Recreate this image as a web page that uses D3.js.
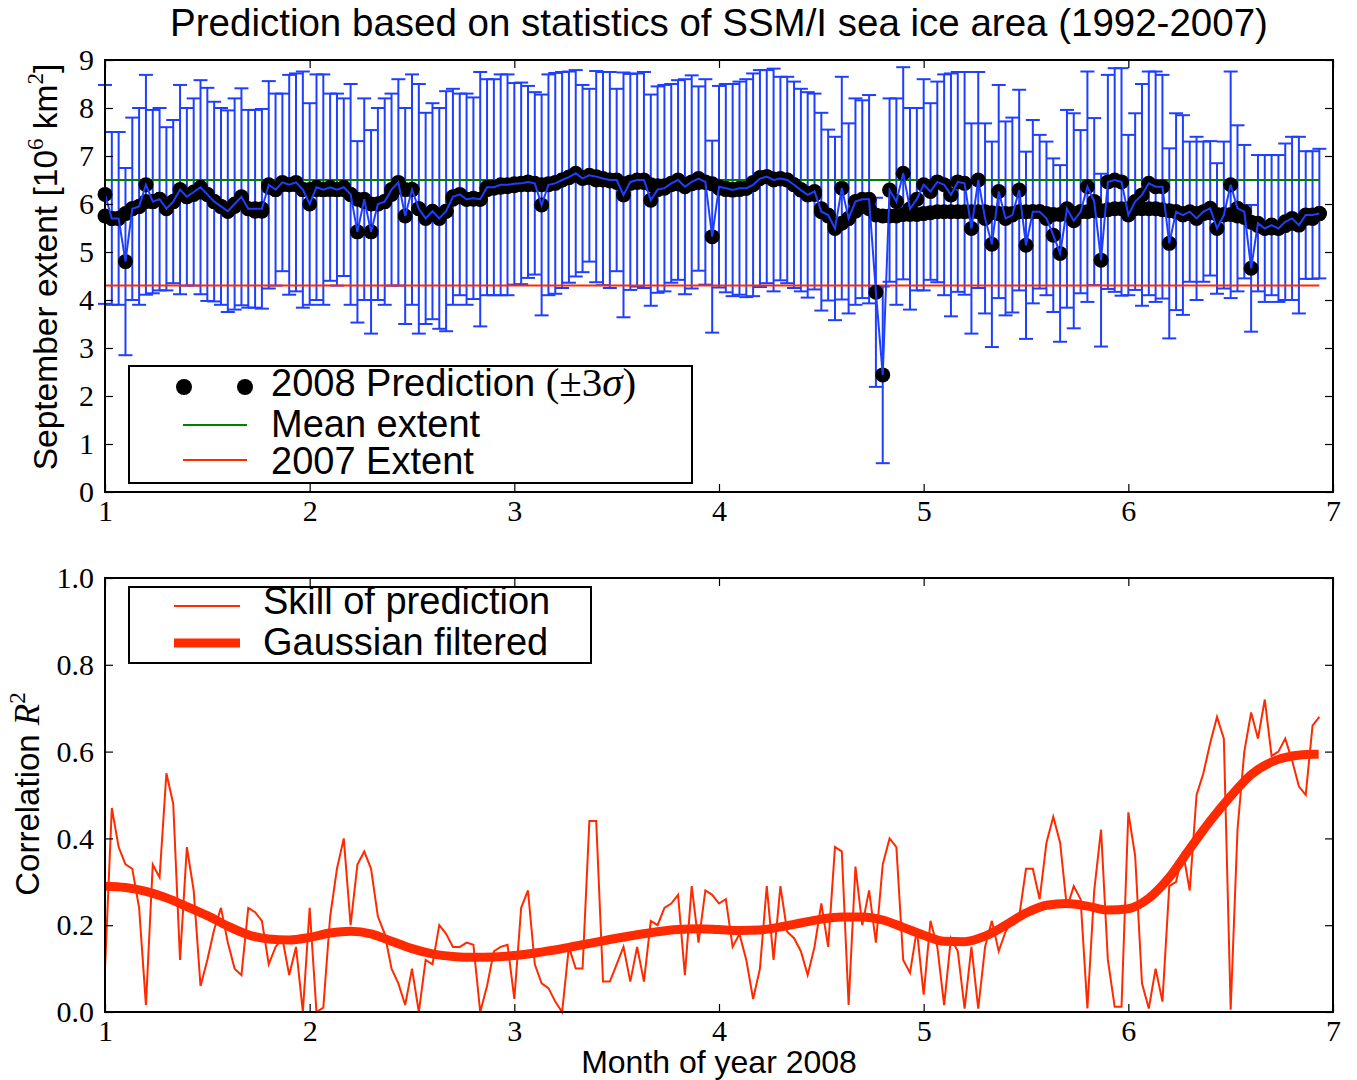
<!DOCTYPE html>
<html>
<head>
<meta charset="utf-8">
<script src="https://cdn.jsdelivr.net/npm/d3@7"></script>
<style>
  body { margin: 0; background: #fff; }
  .sans { font-family: "Liberation Sans", Arial, sans-serif; }
  .serif { font-family: "Liberation Serif", "Times New Roman", serif; }
</style>
</head>
<body>
<div id="vis"></div>
<script>
// daily values, Jan 1 .. late June 2008 (x = month of year)
const predExtent = [
  6.2,5.7,5.7,4.8,5.9,5.95,6.4,6.05,6.1,5.9,
  6.05,6.3,6.15,6.25,6.35,6.2,6.05,5.95,5.85,6.0,
  6.15,5.9,5.9,5.9,6.4,6.3,6.45,6.4,6.45,6.3,
  6.0,6.35,6.3,6.35,6.3,6.35,6.2,5.42,6.1,5.42,
  6.0,6.05,6.3,6.45,5.75,6.3,5.9,5.7,5.85,5.7,
  5.85,6.15,6.2,6.1,6.12,6.1,6.35,6.35,6.4,6.4,
  6.42,6.43,6.46,6.43,5.98,6.4,6.43,6.5,6.56,6.64,
  6.53,6.6,6.57,6.53,6.5,6.5,6.19,6.46,6.5,6.5,
  6.08,6.3,6.33,6.43,6.5,6.36,6.46,6.53,6.46,5.32,
  6.36,6.33,6.29,6.33,6.33,6.4,6.53,6.57,6.5,6.53,
  6.5,6.4,6.29,6.19,6.26,5.84,5.77,5.49,6.33,5.7,
  6.05,6.1,6.1,4.16,2.44,6.29,6.05,6.64,5.9,6.1,
  6.4,6.26,6.46,6.4,6.19,6.46,6.43,5.49,6.5,5.7,
  5.16,6.26,5.7,5.77,6.29,5.14,5.84,5.84,5.7,5.35,
  4.97,5.9,5.65,5.84,6.36,6.05,4.83,6.46,6.5,6.46,
  5.77,6.05,6.19,6.43,6.36,6.36,5.18,5.84,5.77,5.84,
  5.7,5.84,5.91,5.49,5.77,6.4,5.91,5.84,4.66,5.6,
  5.49,5.56,5.49,5.63,5.7,5.56,5.77,5.77,5.8
];
// +-3 sigma half-width of the error bars
const sigma3 = [
  2.28,1.8,1.8,1.95,1.9,2.05,2.29,1.91,1.9,1.7,
  1.7,2.18,1.85,1.95,2.23,2.22,2.08,2.05,2.1,2.2,
  2.26,2.06,2.06,2.08,2.16,2.0,1.85,2.29,2.27,2.46,
  2.1,2.35,2.4,1.95,2.0,1.85,2.3,1.89,2.1,2.12,
  2.0,2.15,2.0,2.15,2.25,2.4,2.6,2.2,2.25,2.3,
  2.5,2.25,2.1,2.2,2.1,2.65,2.25,2.25,2.3,2.3,
  2.1,2.1,2.0,1.9,2.3,2.3,2.3,2.25,2.2,2.15,
  1.95,1.8,2.2,2.22,2.25,1.9,2.55,2.25,2.22,2.25,
  2.2,2.15,2.15,2.07,2.08,2.24,2.22,1.92,2.14,2.0,
  2.1,2.17,2.21,2.22,2.27,2.32,2.26,2.22,2.32,2.12,
  2.15,2.15,2.11,2.14,2.04,2.06,1.78,1.91,2.32,1.98,
  2.15,2.06,2.17,1.97,1.84,1.91,2.15,2.21,2.1,1.9,
  2.2,1.84,2.09,2.3,2.53,2.29,2.32,2.19,2.25,1.98,
  2.14,2.22,2.02,2.03,2.09,1.95,1.91,1.6,1.6,1.6,
  1.84,2.06,2.24,1.7,2.4,1.74,1.8,2.23,2.33,2.37,
  1.67,1.84,2.31,2.33,2.4,2.33,1.98,2.05,2.08,1.46,
  1.7,1.46,1.4,1.36,1.53,2.36,1.73,1.39,1.32,1.42,
  1.53,1.46,1.53,1.63,1.7,1.84,1.33,1.33,1.35
];
// second row of black markers (the thick black band)
const bandExtent = [
  5.75,5.7,5.7,5.8,5.9,5.95,6.05,6.05,6.1,5.95,
  6.05,6.2,6.15,6.2,6.25,6.2,6.05,5.95,5.85,5.95,
  6.1,5.9,5.85,5.85,6.35,6.3,6.4,6.4,6.4,6.3,
  6.3,6.3,6.3,6.3,6.3,6.3,6.2,6.1,6.05,6.0,
  6.0,6.05,6.2,6.35,6.3,6.3,5.9,5.75,5.8,5.75,
  5.85,6.1,6.15,6.1,6.1,6.1,6.3,6.33,6.35,6.36,
  6.38,6.4,6.4,6.4,6.4,6.42,6.45,6.5,6.55,6.6,
  6.55,6.55,6.5,6.5,6.48,6.45,6.42,6.43,6.45,6.45,
  6.4,6.38,6.38,6.4,6.42,6.4,6.42,6.45,6.45,6.42,
  6.33,6.3,6.3,6.3,6.33,6.45,6.55,6.57,6.52,6.52,
  6.5,6.4,6.3,6.22,6.2,5.9,5.75,5.55,5.6,5.7,
  5.85,5.95,5.9,5.77,5.75,5.75,5.75,5.78,5.78,5.78,
  5.8,5.82,5.84,5.84,5.84,5.84,5.84,5.84,5.84,5.84,
  5.82,5.8,5.8,5.8,5.84,5.84,5.84,5.84,5.8,5.78,
  5.78,5.8,5.8,5.84,5.84,5.86,5.86,5.88,5.9,5.9,
  5.9,5.9,5.9,5.9,5.9,5.88,5.86,5.84,5.8,5.8,
  5.8,5.8,5.82,5.78,5.78,5.78,5.75,5.72,5.62,5.55,
  5.5,5.5,5.5,5.55,5.6,5.6,5.7,5.7,5.8
];
const skill = [
  0.1,0.47,0.38,0.34,0.33,0.24,0.016,0.34,0.31,0.55,
  0.48,0.12,0.38,0.28,0.06,0.12,0.19,0.24,0.16,0.1,
  0.085,0.24,0.23,0.21,0.11,0.15,0.17,0.085,0.15,0.0,
  0.24,0.0,0.01,0.22,0.33,0.4,0.2,0.34,0.37,0.33,
  0.22,0.18,0.1,0.066,0.016,0.1,0.0,0.12,0.11,0.2,
  0.18,0.15,0.15,0.16,0.155,0.0,0.06,0.14,0.15,0.155,
  0.03,0.24,0.28,0.11,0.066,0.055,0.024,0.0,0.15,0.1,
  0.1,0.44,0.44,0.07,0.07,0.11,0.15,0.07,0.15,0.07,
  0.21,0.2,0.24,0.25,0.27,0.085,0.29,0.16,0.28,0.27,
  0.25,0.26,0.15,0.18,0.12,0.03,0.1,0.29,0.12,0.29,
  0.185,0.17,0.14,0.085,0.15,0.25,0.15,0.38,0.37,0.016,
  0.335,0.2,0.28,0.16,0.34,0.4,0.38,0.12,0.09,0.19,
  0.04,0.21,0.15,0.016,0.17,0.14,0.008,0.15,0.008,0.15,
  0.21,0.14,0.185,0.21,0.22,0.33,0.33,0.26,0.39,0.45,
  0.39,0.24,0.29,0.26,0.008,0.28,0.42,0.12,0.012,0.012,
  0.46,0.36,0.066,0.008,0.1,0.024,0.29,0.3,0.37,0.28,
  0.5,0.55,0.62,0.68,0.63,0.005,0.42,0.6,0.69,0.63,
  0.72,0.59,0.6,0.63,0.58,0.52,0.5,0.66,0.68
];
const gaussMonth = [1.0,1.1,1.2,1.3,1.4,1.5,1.6,1.7,1.8,1.9,2.0,2.1,2.2,2.3,2.4,2.5,2.6,2.7,2.8,2.9,
  3.0,3.1,3.2,3.3,3.4,3.5,3.6,3.7,3.8,3.9,4.0,4.1,4.2,4.3,4.4,4.5,4.6,4.7,4.8,4.9,
  5.0,5.1,5.2,5.3,5.4,5.5,5.6,5.7,5.8,5.9,6.0,6.1,6.2,6.3,6.4,6.5,6.6,6.7,6.8,6.9,6.93];
const gaussSkill = [0.29,0.287,0.278,0.263,0.243,0.222,0.198,0.178,0.168,0.166,0.172,0.182,0.186,0.18,0.163,0.146,0.134,0.128,0.126,0.127,
  0.13,0.136,0.143,0.152,0.161,0.17,0.178,0.185,0.19,0.192,0.19,0.188,0.189,0.196,0.205,0.214,0.219,0.219,0.212,0.195,
  0.177,0.163,0.162,0.175,0.2,0.228,0.246,0.25,0.244,0.235,0.238,0.262,0.31,0.376,0.44,0.497,0.547,0.576,0.59,0.594,0.594];
const meanExtent = 6.5;
const extent2007 = 4.3;
const monthTicks = [1, 2, 3, 4, 5, 6, 7];
const extentTicks = [0, 1, 2, 3, 4, 5, 6, 7, 8, 9];
const skillTicks = [0, 0.2, 0.4, 0.6, 0.8, 1.0];

const blue = '#1f3fff', red = '#ff2a00', green = '#008000';
const W = 1357, H = 1080;
const svg = d3.select('#vis').append('svg').attr('width', W).attr('height', H);

const x = d3.scaleLinear().domain([1, 7]).range([105, 1333]);
const yTop = d3.scaleLinear().domain([0, 9]).range([492, 60]);
const yBot = d3.scaleLinear().domain([0, 1]).range([1012, 578]);
const dayX = i => 1 + i / 30;

function frame(y, ticks, fmt) {
  const [y0, y1] = y.range();
  const g = svg.append('g');
  g.append('g').attr('transform', `translate(105,0)`)
    .call(d3.axisLeft(y).tickValues(ticks).tickFormat(fmt).tickSize(-8).tickPadding(11))
    .call(a => a.select('.domain').remove());
  g.append('g').attr('transform', `translate(1333,0)`)
    .call(d3.axisRight(y).tickValues(ticks).tickFormat('').tickSize(-8))
    .call(a => a.select('.domain').remove());
  g.append('g').attr('transform', `translate(0,${y0})`)
    .call(d3.axisBottom(x).tickValues(monthTicks).tickFormat(d3.format('d')).tickSize(-8).tickPadding(8))
    .call(a => a.select('.domain').remove());
  g.append('g').attr('transform', `translate(0,${y1})`)
    .call(d3.axisTop(x).tickValues(monthTicks).tickFormat('').tickSize(-8))
    .call(a => a.select('.domain').remove());
  g.selectAll('.tick line').attr('stroke', '#000').attr('stroke-width', 1.2);
  g.selectAll('.tick text').attr('font-size', 30).attr('fill', '#000')
    .attr('font-family', '"Liberation Serif", serif');
  g.append('rect').attr('x', 105).attr('y', y1).attr('width', 1228).attr('height', y0 - y1)
    .attr('fill', 'none').attr('stroke', '#000').attr('stroke-width', 2);
  return g;
}

// ---------- top panel ----------
const days = predExtent.map((v, i) => ({ m: dayX(i), v, e: sigma3[i], b: bandExtent[i] }));
const topG = svg.append('g');

topG.selectAll('.bar').data(days).join('line')
  .attr('x1', d => x(d.m)).attr('x2', d => x(d.m))
  .attr('y1', d => yTop(d.v - d.e)).attr('y2', d => yTop(d.v + d.e))
  .attr('stroke', blue).attr('stroke-width', 2);
['hi', 'lo'].forEach(k => {
  topG.selectAll('.cap' + k).data(days).join('line')
    .attr('x1', d => x(d.m) - 7).attr('x2', d => x(d.m) + 7)
    .attr('y1', d => yTop(k === 'hi' ? d.v + d.e : d.v - d.e))
    .attr('y2', d => yTop(k === 'hi' ? d.v + d.e : d.v - d.e))
    .attr('stroke', blue).attr('stroke-width', 2);
});

const lastM = dayX(predExtent.length - 1);
topG.append('line').attr('x1', x(1)).attr('x2', x(lastM))
  .attr('y1', yTop(meanExtent)).attr('y2', yTop(meanExtent)).attr('stroke', green).attr('stroke-width', 2);
topG.append('line').attr('x1', x(1)).attr('x2', x(lastM))
  .attr('y1', yTop(extent2007)).attr('y2', yTop(extent2007)).attr('stroke', red).attr('stroke-width', 2);

topG.selectAll('.band').data(days).join('circle')
  .attr('cx', d => x(d.m)).attr('cy', d => yTop(d.b)).attr('r', 7.5).attr('fill', '#000');
topG.selectAll('.dot').data(days).join('circle')
  .attr('cx', d => x(d.m)).attr('cy', d => yTop(d.v)).attr('r', 7.5).attr('fill', '#000');
topG.append('path').datum(days)
  .attr('d', d3.line().x(d => x(d.m)).y(d => yTop(d.v)))
  .attr('fill', 'none').attr('stroke', blue).attr('stroke-width', 2);

frame(yTop, extentTicks, d3.format('d'));

// legend top
const lg = svg.append('g');
lg.append('rect').attr('x', 129).attr('y', 366).attr('width', 563).attr('height', 117)
  .attr('fill', '#fff').attr('stroke', '#000').attr('stroke-width', 2);
[184, 245].forEach(cx => lg.append('circle').attr('cx', cx).attr('cy', 387).attr('r', 8).attr('fill', '#000'));
lg.append('line').attr('x1', 183).attr('x2', 247).attr('y1', 425).attr('y2', 425).attr('stroke', green).attr('stroke-width', 2);
lg.append('line').attr('x1', 183).attr('x2', 247).attr('y1', 460).attr('y2', 460).attr('stroke', red).attr('stroke-width', 2);
const t1 = lg.append('text').attr('x', 271).attr('y', 396).attr('class', 'sans').attr('font-size', 38);
t1.append('tspan').text('2008 Prediction ');
t1.append('tspan').attr('class', 'serif').attr('font-size', 41).text('(±3');
t1.append('tspan').attr('class', 'serif').attr('font-size', 41).attr('font-style', 'italic').text('σ');
t1.append('tspan').attr('class', 'serif').attr('font-size', 41).text(')');
lg.append('text').attr('x', 271).attr('y', 437).attr('class', 'sans').attr('font-size', 38).text('Mean extent');
lg.append('text').attr('x', 271).attr('y', 474).attr('class', 'sans').attr('font-size', 38).text('2007 Extent');

// ---------- bottom panel ----------
const botG = svg.append('g');
botG.append('path').datum(skill)
  .attr('d', d3.line().x((d, i) => x(dayX(i))).y(d => yBot(d)))
  .attr('fill', 'none').attr('stroke', red).attr('stroke-width', 2);
botG.append('path').datum(gaussSkill)
  .attr('d', d3.line().x((d, i) => x(gaussMonth[i])).y(d => yBot(d)).curve(d3.curveMonotoneX))
  .attr('fill', 'none').attr('stroke', red).attr('stroke-width', 9);

frame(yBot, skillTicks, d3.format('.1f'));

const lg2 = svg.append('g');
lg2.append('rect').attr('x', 129).attr('y', 587).attr('width', 462).attr('height', 76)
  .attr('fill', '#fff').attr('stroke', '#000').attr('stroke-width', 2);
lg2.append('line').attr('x1', 174).attr('x2', 240).attr('y1', 606).attr('y2', 606).attr('stroke', red).attr('stroke-width', 2);
lg2.append('line').attr('x1', 174).attr('x2', 240).attr('y1', 643).attr('y2', 643).attr('stroke', red).attr('stroke-width', 9);
lg2.append('text').attr('x', 263).attr('y', 614).attr('class', 'sans').attr('font-size', 38).text('Skill of prediction');
lg2.append('text').attr('x', 263).attr('y', 655).attr('class', 'sans').attr('font-size', 38).text('Gaussian filtered');

// ---------- titles and labels ----------
svg.append('text').attr('x', 719).attr('y', 36).attr('text-anchor', 'middle')
  .attr('class', 'sans').attr('font-size', 38.5)
  .text('Prediction based on statistics of SSM/I sea ice area (1992-2007)');

const yl1 = svg.append('text').attr('class', 'sans').attr('font-size', 33.5)
  .attr('text-anchor', 'middle').attr('transform', 'translate(57,267) rotate(-90)');
yl1.append('tspan').text('September extent [10');
yl1.append('tspan').attr('class', 'serif').attr('font-size', 23).attr('dy', -14).text('6');
yl1.append('tspan').attr('dy', 14).text(' km');
yl1.append('tspan').attr('class', 'serif').attr('font-size', 23).attr('dy', -14).text('2');
yl1.append('tspan').attr('dy', 14).text(']');

const yl2 = svg.append('text').attr('class', 'sans').attr('font-size', 33)
  .attr('text-anchor', 'middle').attr('transform', 'translate(39,794) rotate(-90)');
yl2.append('tspan').text('Correlation ');
yl2.append('tspan').attr('class', 'serif').attr('font-style', 'italic').attr('font-size', 35).text('R');
yl2.append('tspan').attr('class', 'serif').attr('font-size', 23).attr('dy', -14).text('2');

svg.append('text').attr('x', 719).attr('y', 1073).attr('text-anchor', 'middle')
  .attr('class', 'sans').attr('font-size', 32).text('Month of year 2008');
</script>
</body>
</html>
